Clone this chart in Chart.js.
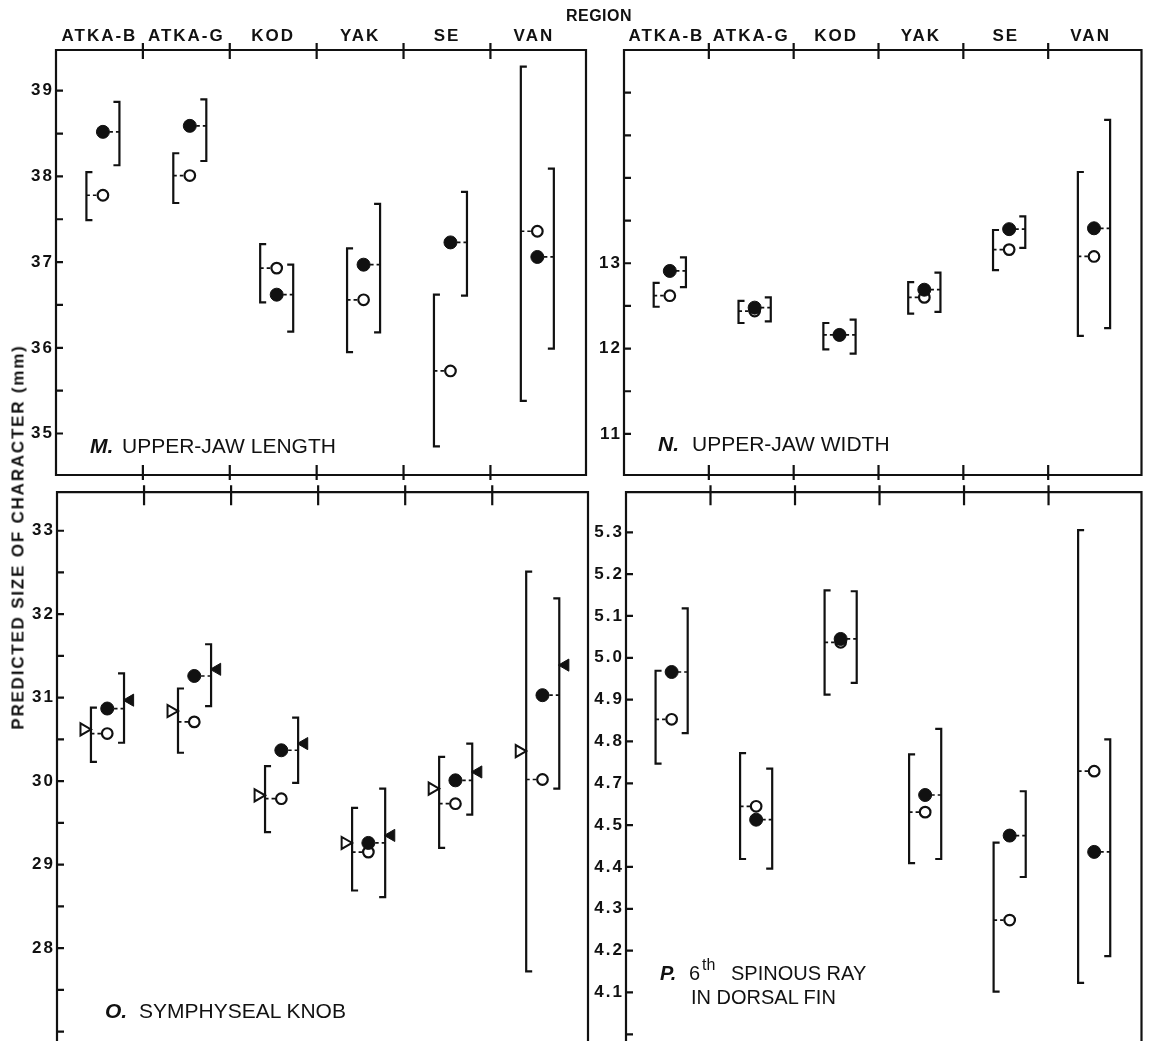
<!DOCTYPE html>
<html><head><meta charset="utf-8">
<script src="https://cdn.jsdelivr.net/npm/chart.js@4.4.1/dist/chart.umd.min.js"></script>
<style>
html,body{margin:0;padding:0;background:#fff;}
body{width:1149px;height:1041px;overflow:hidden;position:relative;}
canvas{position:absolute;}
.t{position:absolute;font-family:"Liberation Sans",Arial,Helvetica,sans-serif;color:#111;white-space:nowrap;line-height:1;}
.lab{font-size:21px;}
.bi{font-weight:bold;font-style:italic;}
</style></head>
<body>
<canvas id="cM" width="600" height="490" style="left:0;top:0"></canvas>
<canvas id="cN" width="579" height="490" style="left:570px;top:0"></canvas>
<canvas id="cO" width="600" height="600" style="left:0;top:480px"></canvas>
<canvas id="cP" width="579" height="600" style="left:570px;top:480px"></canvas>

<div class="t" style="left:599px;top:7.5px;font-size:16px;font-weight:bold;letter-spacing:0.5px;transform:translateX(-50%)">REGION</div>
<div class="t" style="left:18px;top:537px;font-size:17px;font-weight:bold;letter-spacing:1.8px;transform:translate(-50%,-50%) rotate(-90deg)">PREDICTED SIZE OF CHARACTER (mm)</div>

<div class="t lab bi" style="left:90px;top:434.5px">M.</div>
<div class="t lab" style="left:122px;top:434.5px">UPPER-JAW LENGTH</div>
<div class="t lab bi" style="left:658px;top:432.5px">N.</div>
<div class="t lab" style="left:692px;top:432.5px">UPPER-JAW WIDTH</div>
<div class="t lab bi" style="left:105px;top:999.5px">O.</div>
<div class="t lab" style="left:139px;top:999.5px">SYMPHYSEAL KNOB</div>
<div class="t bi" style="left:660px;top:962.5px;font-size:20px">P.</div>
<div class="t" style="left:689px;top:962.5px;font-size:20px">6</div>
<div class="t" style="left:702px;top:957px;font-size:16px">th</div>
<div class="t" style="left:731px;top:962.5px;font-size:20px">SPINOUS RAY</div>
<div class="t" style="left:691px;top:986.5px;font-size:20px">IN DORSAL FIN</div>

<script>
// ---------------- DATA ----------------
const REGIONS = ['ATKA-B', 'ATKA-G', 'KOD', 'YAK', 'SE', 'VAN'];

// M. Upper-jaw length (mm)
const M_OPEN_MEAN   = [37.78, 38.01, 36.93, 36.56, 35.73, 37.36];
const M_OPEN_LO     = [37.49, 37.69, 36.53, 35.95, 34.85, 35.38];
const M_OPEN_HI     = [38.05, 38.27, 37.21, 37.16, 36.62, 39.28];
const M_FILLED_MEAN = [38.52, 38.59, 36.62, 36.97, 37.23, 37.06];
const M_FILLED_LO   = [38.13, 38.18, 36.19, 36.18, 36.61, 35.99];
const M_FILLED_HI   = [38.87, 38.90, 36.97, 37.68, 37.82, 38.09];
const M_TICK_LABELS = [35, 36, 37, 38, 39];

// N. Upper-jaw width (mm)
const N_OPEN_MEAN   = [12.62, 12.44, 12.16, 12.60, 13.16, 13.08];
const N_OPEN_LO     = [12.49, 12.30, 11.99, 12.41, 12.92, 12.15];
const N_OPEN_HI     = [12.77, 12.56, 12.30, 12.78, 13.39, 14.07];
const N_FILLED_MEAN = [12.91, 12.48, 12.16, 12.69, 13.40, 13.41];
const N_FILLED_LO   = [12.72, 12.32, 11.94, 12.43, 13.18, 12.24];
const N_FILLED_HI   = [13.07, 12.60, 12.34, 12.89, 13.55, 14.68];
const N_TICK_LABELS = [11, 12, 13];

// O. Symphyseal knob (mm)
const O_OPEN_MEAN   = [30.57, 30.71, 29.79, 29.15, 29.73, 30.02];
const O_OPEN_LO     = [30.23, 30.34, 29.39, 28.69, 29.20, 27.72];
const O_OPEN_HI     = [30.88, 31.11, 30.18, 29.68, 30.29, 32.51];
const O_FILLED_MEAN = [30.87, 31.26, 30.37, 29.26, 30.01, 31.03];
const O_FILLED_LO   = [30.46, 30.90, 29.98, 28.61, 29.60, 29.91];
const O_FILLED_HI   = [31.29, 31.64, 30.76, 29.91, 30.45, 32.19];
const O_OPEN_TRI    = [30.62, 30.84, 29.83, 29.26, 29.91, 30.36];
const O_FILLED_TRI  = [30.97, 31.34, 30.45, 29.35, 30.11, 31.39];
const O_TICK_LABELS = [28, 29, 30, 31, 32, 33];

// P. 6th spinous ray in dorsal fin (values in axis-position units)
const P_OPEN_MEAN   = [4.853, 4.645, 5.037, 4.631, 4.373, 4.729];
const P_OPEN_LO     = [4.747, 4.519, 4.912, 4.509, 4.202, 4.223];
const P_OPEN_HI     = [4.969, 4.772, 5.161, 4.769, 4.558, 5.305];
const P_FILLED_MEAN = [4.966, 4.613, 5.045, 4.672, 4.575, 4.536];
const P_FILLED_LO   = [4.820, 4.496, 4.940, 4.519, 4.476, 4.287];
const P_FILLED_HI   = [5.118, 4.735, 5.159, 4.830, 4.681, 4.805];
const P_TICK_POS    = [5.3, 5.2, 5.1, 5.0, 4.9, 4.8, 4.7, 4.6, 4.5, 4.4, 4.3, 4.2];
const P_TICK_LABELS = ['5.3', '5.2', '5.1', '5.0', '4.9', '4.8', '4.7', '4.5', '4.4', '4.3', '4.2', '4.1'];

// ---------------- STYLE / LAYOUT ----------------
const INK = '#111';
const LS = '2px';
const CAP = 6;
const FONT = "'Liberation Sans', Arial, Helvetica, sans-serif";
const TICK_FONT = { family: FONT, size: 17, weight: 'bold' };

function listLabel(list) {
  return v => list.some(t => Math.abs(t - v) < 1e-6) ? String(Math.round(v)) : '';
}
function pLabel(v) {
  const i = P_TICK_POS.findIndex(t => Math.abs(t - v) < 1e-6);
  return i >= 0 ? P_TICK_LABELS[i] : '';
}

function makeChart(id, s) {
  const datasets = s.points.map(p => ({
    data: p.values.map((v, i) => ({ x: i + p.dx, y: v })),
    pointStyle: p.style,
    pointRotation: p.rot || 0,
    pointRadius: p.r,
    pointHoverRadius: p.r,
    pointBackgroundColor: p.fill,
    pointBorderColor: INK,
    pointBorderWidth: p.bw,
    order: p.order,
    showLine: false
  }));

  const panelPlugin = {
    id: 'panel_' + id,
    beforeUpdate(chart) { chart.ctx.letterSpacing = LS; },
    beforeLayout(chart) { chart.ctx.letterSpacing = LS; },
    beforeDraw(chart) { chart.ctx.letterSpacing = LS; },
    beforeDatasetsDraw(chart) {
      const { ctx, scales: { x, y } } = chart;
      ctx.save();
      ctx.strokeStyle = INK;
      ctx.lineCap = 'butt';
      ctx.lineJoin = 'miter';
      s.brackets.forEach(b => {
        const dir = b.side === 'left' ? 1 : -1;
        for (let i = 0; i < b.lo.length; i++) {
          const px = x.getPixelForValue(i + b.dx);
          const pl = y.getPixelForValue(b.lo[i]);
          const ph = y.getPixelForValue(b.hi[i]);
          const pm = y.getPixelForValue(b.mean[i]);
          const pc = x.getPixelForValue(i + b.cdx);
          ctx.setLineDash([]);
          ctx.lineWidth = 2.2;
          ctx.beginPath();
          ctx.moveTo(px + dir * CAP, ph);
          ctx.lineTo(px, ph);
          ctx.lineTo(px, pl);
          ctx.lineTo(px + dir * CAP, pl);
          ctx.stroke();
          ctx.lineWidth = 1.7;
          ctx.setLineDash([3.5, 3]);
          ctx.beginPath();
          ctx.moveTo(px, pm);
          ctx.lineTo(pc - dir * 6, pm);
          ctx.stroke();
        }
      });
      ctx.restore();
    },
    afterDraw(chart) {
      const { ctx, chartArea: a, scales: { x, y } } = chart;
      ctx.save();
      ctx.strokeStyle = INK;
      ctx.lineWidth = 2.2;
      ctx.setLineDash([]);
      ctx.beginPath();
      if (s.closedBottom) {
        ctx.rect(a.left, a.top, a.right - a.left, a.bottom - a.top);
      } else {
        ctx.moveTo(a.left, a.bottom + 5);
        ctx.lineTo(a.left, a.top);
        ctx.lineTo(a.right, a.top);
        ctx.lineTo(a.right, a.bottom + 5);
      }
      y.ticks.forEach(t => {
        const py = y.getPixelForValue(t.value);
        ctx.moveTo(a.left, py);
        ctx.lineTo(a.left + 7, py);
      });
      for (let k = 0; k < REGIONS.length - 1; k++) {
        const px = x.getPixelForValue(k + 0.5);
        s.sepSpans.forEach(([e, d0, d1]) => {
          const base = e === 'top' ? a.top : a.bottom;
          ctx.moveTo(px, base + d0);
          ctx.lineTo(px, base + d1);
        });
      }
      ctx.stroke();
      ctx.restore();
    }
  };

  new Chart(document.getElementById(id), {
    type: 'scatter',
    data: { datasets },
    options: {
      responsive: false,
      animation: false,
      devicePixelRatio: 1,
      events: [],
      layout: { padding: { left: 0, top: s.padTop, right: s.padRight, bottom: s.padBottom } },
      plugins: { legend: { display: false }, tooltip: { enabled: false } },
      scales: {
        x: {
          type: 'linear', position: 'top', display: s.topAxis,
          min: -0.5, max: 5.6,
          afterBuildTicks: sc => { sc.ticks = REGIONS.map((_, i) => ({ value: i })); },
          afterFit: sc => { sc.height = s.axisH; },
          grid: { display: false, drawTicks: false },
          border: { display: false },
          ticks: {
            autoSkip: false, maxRotation: 0, minRotation: 0, padding: 3,
            font: TICK_FONT, color: INK,
            callback: v => REGIONS[Math.round(v)] ?? ''
          }
        },
        y: {
          type: 'linear', min: s.yMin, max: s.yMax,
          afterBuildTicks: sc => {
            const t = [];
            const k0 = Math.ceil(s.yMin / s.step - 1e-9);
            const k1 = Math.floor(s.yMax / s.step + 1e-9);
            for (let k = k0; k <= k1; k++) t.push({ value: +(k * s.step).toFixed(4) });
            sc.ticks = t;
          },
          afterFit: sc => { sc.width = s.axisW; },
          grid: { display: false, drawTicks: false },
          border: { display: false },
          ticks: {
            autoSkip: false, padding: 2,
            font: TICK_FONT, color: INK,
            callback: s.tickLabel
          }
        }
      }
    },
    plugins: [panelPlugin]
  });
}

function circleSet(open, filled, dx) {
  return [
    { values: filled, dx, style: 'circle', r: 6.5, fill: INK, bw: 1, order: 0 },
    { values: open, dx, style: 'circle', r: 5.3, fill: '#fff', bw: 2.2, order: 1 }
  ];
}
function bracketSet(oMean, oLo, oHi, fMean, fLo, fHi, odx, fdx, cdx) {
  return [
    { lo: oLo, hi: oHi, mean: oMean, dx: odx, cdx, side: 'left' },
    { lo: fLo, hi: fHi, mean: fMean, dx: fdx, cdx, side: 'right' }
  ];
}

const TOP_SEPS = [['top', -7, 9], ['bottom', -10, 5]];
const BOT_SEPS = [['top', -7, 13]];

makeChart('cM', {
  yMin: 34.516, yMax: 39.475, step: 0.5, tickLabel: listLabel(M_TICK_LABELS),
  topAxis: true, axisH: 50, axisW: 56, padTop: 0, padRight: 14, padBottom: 15,
  closedBottom: true, sepSpans: TOP_SEPS,
  points: circleSet(M_OPEN_MEAN, M_FILLED_MEAN, 0.04),
  brackets: bracketSet(M_OPEN_MEAN, M_OPEN_LO, M_OPEN_HI, M_FILLED_MEAN, M_FILLED_LO, M_FILLED_HI, -0.15, 0.23, 0.04)
});

makeChart('cN', {
  yMin: 10.518, yMax: 15.50, step: 0.5, tickLabel: listLabel(N_TICK_LABELS),
  topAxis: true, axisH: 50, axisW: 54, padTop: 0, padRight: 2, padBottom: 15,
  closedBottom: true, sepSpans: TOP_SEPS,
  points: circleSet(N_OPEN_MEAN, N_FILLED_MEAN, 0.04),
  brackets: bracketSet(N_OPEN_MEAN, N_OPEN_LO, N_OPEN_HI, N_FILLED_MEAN, N_FILLED_LO, N_FILLED_HI, -0.15, 0.23, 0.04)
});

makeChart('cO', {
  yMin: 26.566, yMax: 33.4616, step: 0.5, tickLabel: listLabel(O_TICK_LABELS),
  topAxis: false, axisH: 0, axisW: 57, padTop: 7, padRight: 12, padBottom: 0,
  closedBottom: false, sepSpans: BOT_SEPS,
  points: circleSet(O_OPEN_MEAN, O_FILLED_MEAN, 0.077).concat([
    { values: O_OPEN_TRI, dx: -0.19, style: 'triangle', rot: 90, r: 7, fill: '#fff', bw: 2, order: 2 },
    { values: O_FILLED_TRI, dx: 0.34, style: 'triangle', rot: -90, r: 7, fill: INK, bw: 1, order: 2 }
  ]),
  brackets: bracketSet(O_OPEN_MEAN, O_OPEN_LO, O_OPEN_HI, O_FILLED_MEAN, O_FILLED_LO, O_FILLED_HI, -0.11, 0.27, 0.077)
});

makeChart('cP', {
  yMin: 4.0199, yMax: 5.3958, step: 0.1, tickLabel: pLabel,
  topAxis: false, axisH: 0, axisW: 56, padTop: 7, padRight: 2, padBottom: 0,
  closedBottom: false, sepSpans: BOT_SEPS,
  points: circleSet(P_OPEN_MEAN, P_FILLED_MEAN, 0.04),
  brackets: bracketSet(P_OPEN_MEAN, P_OPEN_LO, P_OPEN_HI, P_FILLED_MEAN, P_FILLED_LO, P_FILLED_HI, -0.15, 0.23, 0.04)
});
</script>
</body></html>
